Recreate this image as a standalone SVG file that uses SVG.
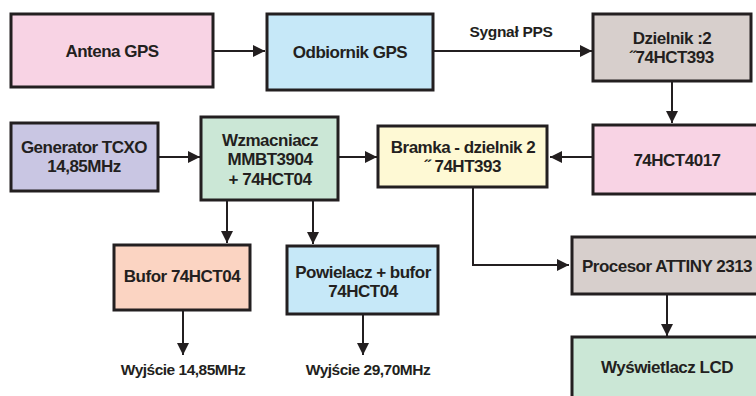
<svg xmlns="http://www.w3.org/2000/svg" width="756" height="396" viewBox="0 0 756 396">
<defs>
<style>
.box{stroke:#231f20;stroke-width:3;}
.t{font-family:"Liberation Sans",Arial,sans-serif;font-weight:bold;font-size:17px;fill:#231f20;text-anchor:middle;letter-spacing:-0.5px;}
.s{font-size:15.5px;}
.p{font-size:15.5px;letter-spacing:-0.3px;}
.c{fill:none;stroke:#231f20;stroke-width:2;}
</style>
<marker id="ah" markerUnits="userSpaceOnUse" markerWidth="12" markerHeight="12" viewBox="0 0 12 12" refX="12" refY="6" orient="auto">
<path d="M0,0 L12,6 L0,12 Z" fill="#231f20"/>
</marker>
</defs>
<rect width="756" height="396" fill="#ffffff"/>

<g id="connectors">
<line class="c" x1="213" y1="51" x2="265" y2="51" marker-end="url(#ah)"/>
<line class="c" x1="433" y1="51" x2="592" y2="51" marker-end="url(#ah)"/>
<line class="c" x1="672" y1="81" x2="672" y2="123" marker-end="url(#ah)"/>
<line class="c" x1="593" y1="157" x2="550" y2="157" marker-end="url(#ah)"/>
<line class="c" x1="158" y1="157" x2="200" y2="157" marker-end="url(#ah)"/>
<line class="c" x1="338" y1="157" x2="377" y2="157" marker-end="url(#ah)"/>
<line class="c" x1="227" y1="200" x2="227" y2="243" marker-end="url(#ah)"/>
<line class="c" x1="313" y1="200" x2="313" y2="244" marker-end="url(#ah)"/>
<line class="c" x1="183" y1="310" x2="183" y2="355" marker-end="url(#ah)"/>
<line class="c" x1="363" y1="314" x2="363" y2="355" marker-end="url(#ah)"/>
<polyline class="c" points="473,187 473,265 569,265" marker-end="url(#ah)"/>
<line class="c" x1="667" y1="294" x2="667" y2="336" marker-end="url(#ah)"/>
<text class="t p" x="511" y="37">Sygnał PPS</text>
</g>

<g id="antena">
<rect class="box" x="11" y="14" width="202" height="73" fill="#f8d3e4"/>
<text class="t" x="112" y="57">Antena GPS</text>
</g>
<g id="odbiornik">
<rect class="box" x="267" y="14" width="166" height="76" fill="#c6e8f8"/>
<text class="t" x="350" y="58">Odbiornik GPS</text>
</g>
<g id="dzielnik">
<rect class="box" x="593" y="14" width="158" height="67" fill="#d7cfcc"/>
<text class="t" x="672" y="44">Dzielnik :2</text>
<text class="t" x="672" y="63">˝74HCT393</text>
</g>
<g id="generator">
<rect class="box" x="11" y="123" width="147" height="68" fill="#c9c6e3"/>
<text class="t" x="84" y="153">Generator TCXO</text>
<text class="t" x="84" y="172">14,85MHz</text>
</g>
<g id="wzmacniacz">
<rect class="box" x="201" y="117" width="137" height="83" fill="#cbe7d6"/>
<text class="t" x="270" y="146">Wzmacniacz</text>
<text class="t" x="270" y="165">MMBT3904</text>
<text class="t" x="270" y="185">+ 74HCT04</text>
</g>
<g id="bramka">
<rect class="box" x="378" y="126" width="169" height="61" fill="#fef9d4"/>
<text class="t" x="463" y="153">Bramka - dzielnik 2</text>
<text class="t" x="463" y="172">˝  74HT393</text>
</g>
<g id="hct4017">
<rect class="box" x="593" y="125" width="170" height="69" fill="#f8d3e4"/>
<text class="t" x="677" y="166">74HCT4017</text>
</g>
<g id="bufor">
<rect class="box" x="114" y="245" width="136" height="65" fill="#fbd4c2"/>
<text class="t" x="182" y="282">Bufor 74HCT04</text>
</g>
<g id="powielacz">
<rect class="box" x="287" y="246" width="151" height="68" fill="#c6e8f8"/>
<text class="t" x="363" y="278">Powielacz + bufor</text>
<text class="t" x="363" y="297">74HCT04</text>
</g>
<g id="procesor">
<rect class="box" x="572" y="237" width="192" height="57" fill="#d7cfcc"/>
<text class="t" x="667" y="272">Procesor ATTINY 2313</text>
</g>
<g id="lcd">
<rect class="box" x="572" y="337" width="192" height="70" fill="#cbe7d6"/>
<text class="t" x="667" y="373">Wyświetlacz LCD</text>
</g>
<g id="outputs">
<text class="t s" x="183" y="375">Wyjście 14,85MHz</text>
<text class="t s" x="368" y="375">Wyjście 29,70MHz</text>
</g>
</svg>
